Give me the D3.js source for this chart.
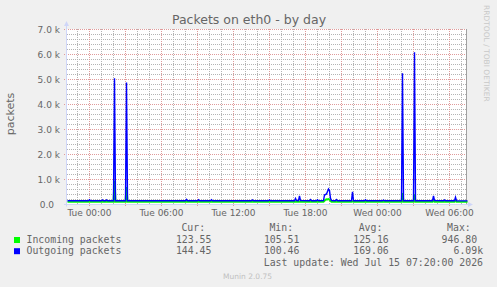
<!DOCTYPE html>
<html><head><meta charset="utf-8">
<script src="https://cdn.jsdelivr.net/npm/d3@7"></script>
<style>
html,body{margin:0;padding:0;background:#f0f0f0;}
svg{display:block;}
text{font-family:"DejaVu Sans",sans-serif;}
.mono{font-family:"DejaVu Sans Mono",monospace;}
</style></head><body>
<svg id="c" width="497" height="287"></svg>
<script>
// ---------- data ----------
const startTime = new Date(2026, 6, 13, 22, 10);   // Mon 22:10
const endTime   = new Date(2026, 6, 15, 7, 30);    // Wed 07:30
// sample times, minutes after startTime
const minutes = [0,105,110,115,170,175,180,190,195,200,230,235,240,290,295,300,590,595,600,650,655,660,715,720,725,920,925,930,1005,1010,1015,1135,1140,1145,1155,1160,1165,1210,1215,1220,1245,1250,1255,1280,1285,1290,1295,1300,1305,1310,1315,1320,1340,1345,1350,1420,1425,1430,1485,1490,1495,1575,1580,1585,1670,1675,1680,1730,1735,1740,1825,1830,1835,1880,1885,1890,1935,1940,1945,2000];
const incoming = [110,110,112,110,110,112,110,110,112,110,110,947,112,110,700,112,110,115,110,110,112,110,110,112,110,110,112,110,110,112,110,110,115,112,112,120,112,110,115,110,110,115,110,112,150,190,210,200,220,200,140,112,110,115,110,110,130,110,110,112,110,110,112,110,110,460,112,110,400,112,110,150,112,110,112,110,110,140,110,110];
const outgoing = [148,148,190,148,148,182,150,150,185,148,148,5050,150,150,4880,150,148,200,148,148,190,148,148,190,148,148,180,148,148,180,148,150,240,160,150,340,155,150,195,150,150,190,150,155,380,400,420,520,620,560,250,155,150,195,150,150,510,150,150,190,150,150,180,150,150,5250,150,150,6090,150,150,340,160,150,185,150,150,290,150,145];

const yTicks = [0,1000,2000,3000,4000,5000,6000,7000];
const yTickLabels = ["0.0","1.0 k","2.0 k","3.0 k","4.0 k","5.0 k","6.0 k","7.0 k"];
const xLabelTimes = [new Date(2026,6,14,0,0), new Date(2026,6,14,6,0), new Date(2026,6,14,12,0),
                     new Date(2026,6,14,18,0), new Date(2026,6,15,0,0), new Date(2026,6,15,6,0)];
const seriesNames = ["Incoming packets","Outgoing packets"];
const seriesColors = ["#00ff00","#0000ff"];
const legendHeaders = ["Cur:","Min:","Avg:","Max:"];
const incomingStats = ["123.55","105.51","125.16","946.80"];
const outgoingStats = ["144.45","100.46","169.06","6.09k"];
const title = "Packets on eth0 - by day";
const yTitle = "packets";
const lastUpdate = "Last update: Wed Jul 15 07:20:00 2026";
const footer = "Munin 2.0.75";
const watermark = "RRDTOOL / TOBI OETIKER";

// ---------- layout ----------
const L = 67, R = 467, T = 29.5, B = 204.5;
const svg = d3.select("#c");
const x = d3.scaleTime().domain([startTime, endTime]).range([L, R]);
const y = d3.scaleLinear().domain([0, 7000]).range([B, T]);

svg.append("rect").attr("width",497).attr("height",287).attr("fill","#f0f0f0");
svg.append("rect").attr("x",L).attr("y",T-0.5).attr("width",R-L).attr("height",B-T+0.5).attr("fill","#ffffff");

const grid = svg.append("g").attr("shape-rendering","crispEdges");
const minorCol = "#b4b4b4", majorCol = "#e09a9a";
// horizontal minor (every 200)
d3.range(200, 7001, 200).filter(v => v % 1000 !== 0).forEach(v => {
  grid.append("line").attr("x1",L).attr("x2",R).attr("y1",y(v)).attr("y2",y(v))
    .attr("stroke",minorCol).attr("stroke-dasharray","1,1");
});
// vertical minor (hourly)
d3.timeHour.every(1).range(startTime, endTime).filter(d => d.getHours() % 3 !== 0).forEach(d => {
  const xx = Math.round(x(d)) + 0.5;
  grid.append("line").attr("x1",xx).attr("x2",xx).attr("y1",T-0.5).attr("y2",B-0.5)
    .attr("stroke",minorCol).attr("stroke-dasharray","1,1");
});
// horizontal major
yTicks.filter(v => v > 0).forEach(v => {
  grid.append("line").attr("x1",L-3).attr("x2",R).attr("y1",y(v)).attr("y2",y(v))
    .attr("stroke",majorCol).attr("stroke-dasharray","1,1");
});
// vertical major (3h)
d3.timeHour.every(3).range(startTime, endTime).forEach(d => {
  const xx = Math.round(x(d)) + 0.5;
  grid.append("line").attr("x1",xx).attr("x2",xx).attr("y1",T-0.5).attr("y2",B+2.5)
    .attr("stroke",majorCol).attr("stroke-dasharray","1,1");
});

// right frame
svg.append("line").attr("x1",R-0.5).attr("x2",R-0.5).attr("y1",T-0.5).attr("y2",B)
  .attr("stroke","#a0a0a0");

// ---------- series ----------
const times = minutes.map(m => new Date(startTime.getTime() + m * 60000));
const line = d3.line().x((d,i) => x(times[i]) + 0.5).y(d => y(d));
svg.append("path").datum(incoming).attr("d", line).attr("fill","none")
  .attr("stroke", seriesColors[0]).attr("stroke-width", 2);
svg.append("path").datum(outgoing).attr("d", line).attr("fill","none")
  .attr("stroke", seriesColors[1]).attr("stroke-width", 1.4);

// ---------- axes ----------
const axisCol = "#cfd6f8";
svg.append("line").attr("x1",L-0.5).attr("x2",L-0.5).attr("y1",25).attr("y2",B+2).attr("stroke",axisCol);
svg.append("path").attr("d",`M${L-0.5},21 L${L-3},26 L${L+2},26 Z`).attr("fill",axisCol);
svg.append("line").attr("x1",L-3).attr("x2",R+2).attr("y1",B).attr("y2",B).attr("stroke",axisCol);
svg.append("path").attr("d",`M${R+6},${B} L${R+1},${B-2.5} L${R+1},${B+2.5} Z`).attr("fill",axisCol);

const fontCol = "#666666";
// y tick labels
svg.append("g").selectAll("text").data(yTicks).join("text")
  .attr("x", (d,i) => i === 0 ? 54 : 60)
  .attr("y", d => y(d) + 3.3)
  .attr("text-anchor","end").attr("font-size",9).attr("fill",fontCol)
  .text((d,i) => yTickLabels[i]);
// x tick labels
const fmt = d3.timeFormat("%a %H:%M");
svg.append("g").selectAll("text").data(xLabelTimes).join("text")
  .attr("x", d => Math.round(x(d)) + 0.5).attr("y", 215.7)
  .attr("text-anchor","middle").attr("font-size",9).attr("fill",fontCol)
  .text(d => fmt(d));

// title
svg.append("text").attr("x",249).attr("y",23.5).attr("text-anchor","middle")
  .attr("font-size",12.5).attr("fill",fontCol).text(title);
// y title
svg.append("text").attr("transform","translate(14,114) rotate(-90)").attr("text-anchor","middle")
  .attr("font-size",11).attr("fill",fontCol).text(yTitle);
// watermark
svg.append("text").attr("transform","translate(484,5) rotate(90)")
  .attr("font-size",7.5).attr("fill","#c8c8c8").text(watermark);

// ---------- legend ----------
const fs = 9.85, cw = fs * 0.602;
const colEdge = [217.4, 305.4, 394.7, 483.1];
const lg = svg.append("g").attr("class","mono");
legendHeaders.forEach((h, i) => {
  lg.append("text").attr("class","mono").attr("x", colEdge[i] - 36).attr("y", 231)
    .attr("font-size", fs).attr("fill", fontCol).text(h);
});
[incomingStats, outgoingStats].forEach((stats, r) => {
  const by = 243 + r * 11.2;
  lg.append("rect").attr("x",14).attr("y",by-6).attr("width",6).attr("height",6).attr("fill",seriesColors[r]);
  lg.append("text").attr("class","mono").attr("x",26.5).attr("y",by)
    .attr("font-size",fs).attr("fill",fontCol).text(seriesNames[r]);
  stats.forEach((s, i) => {
    const hasUnit = /[a-zA-Z]$/.test(s);
    lg.append("text").attr("class","mono").attr("x", colEdge[i] - (hasUnit ? 0 : cw)).attr("y", by)
      .attr("text-anchor","end").attr("font-size",fs).attr("fill",fontCol).text(s);
  });
});
lg.append("text").attr("class","mono").attr("x",483).attr("y",265.5).attr("text-anchor","end")
  .attr("font-size",fs).attr("fill",fontCol).text(lastUpdate);
svg.append("text").attr("x",223).attr("y",278.5).attr("font-size",7.5).attr("fill","#c0c0c0").text(footer);
</script>
</body></html>
